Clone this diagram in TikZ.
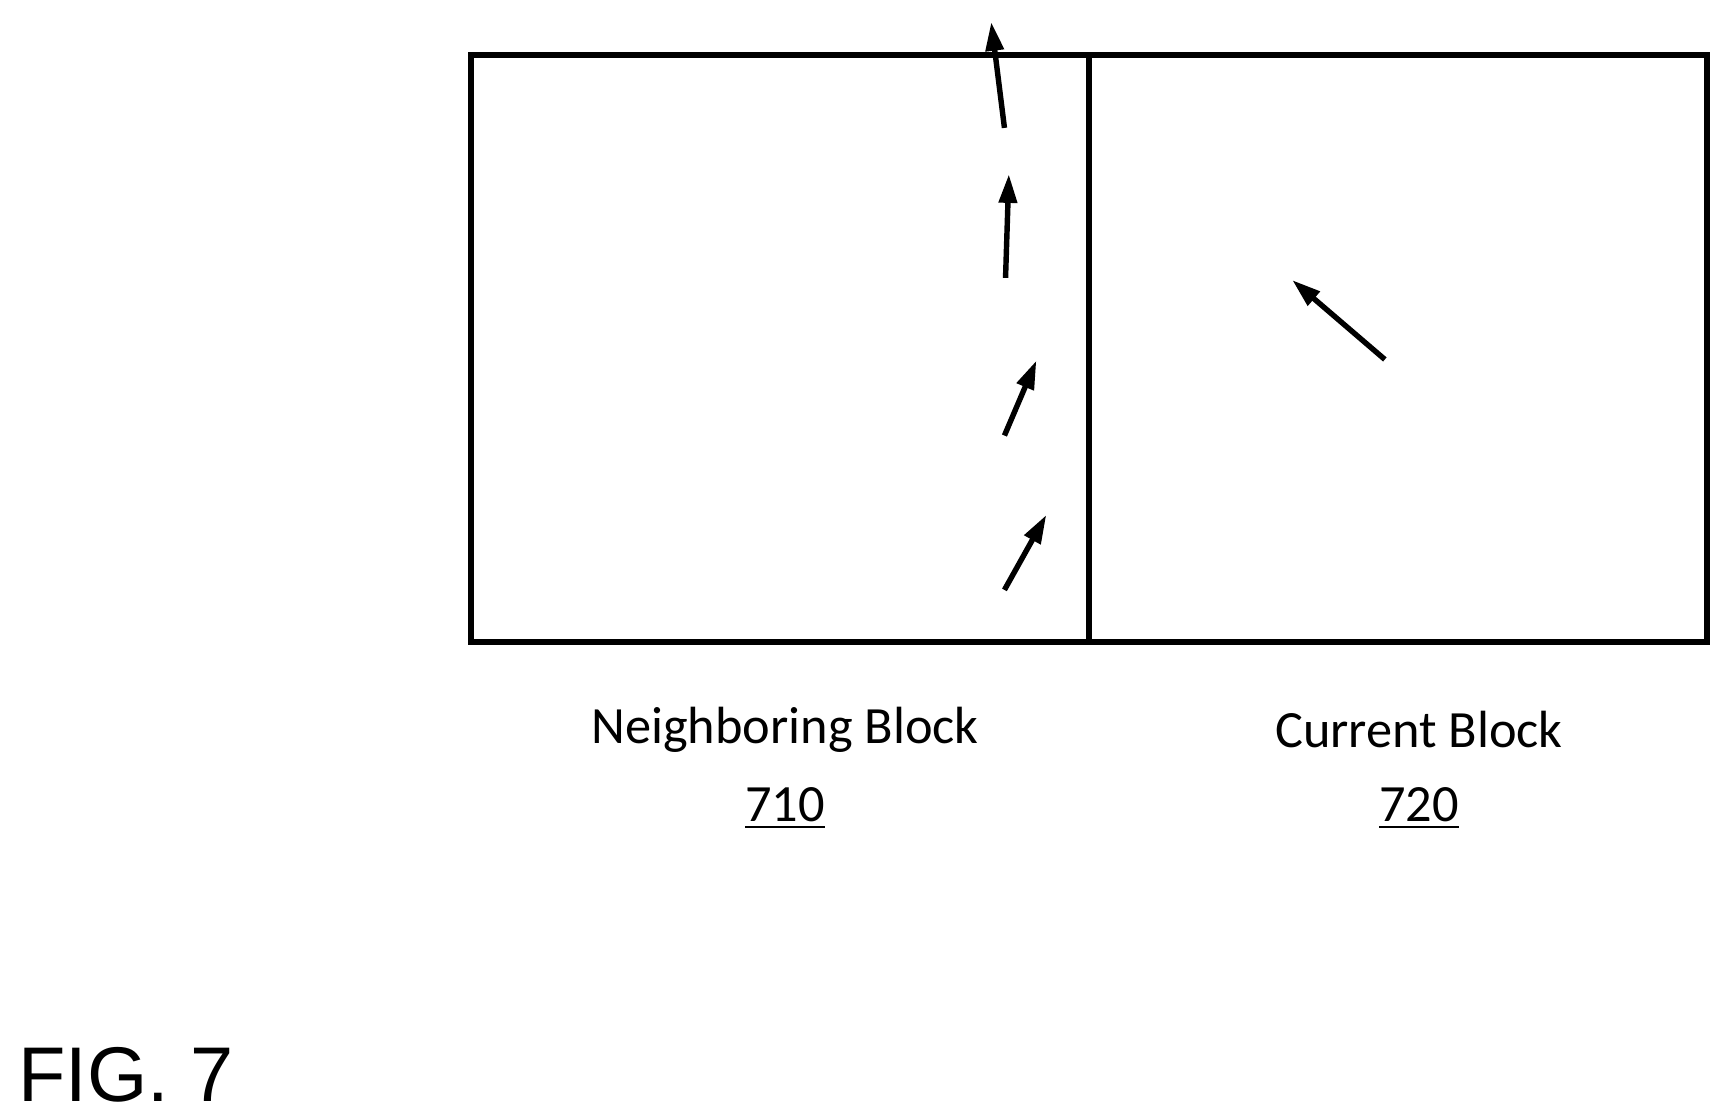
\documentclass[tikz,border=0pt]{standalone}
\usepackage{fontspec}
\setmainfont{Carlito}
\newfontfamily\figfont{Liberation Sans}
\usetikzlibrary{arrows.meta}
\begin{document}
\begin{tikzpicture}[x=0.01cm,y=-0.01cm,
  mv/.style={line width=1.4pt,-{Triangle[length=0.26cm,width=0.16cm]}},
  lbl/.style={font=\fontsize{13.5}{16}\selectfont,inner sep=0pt}]
\useasboundingbox (0,0) rectangle (1560,1014);
\draw[line width=1.6pt] (427,50) rectangle (1548,582);
\draw[line width=1.6pt] (988,50) -- (988,582);
\coordinate (a1) at (911,116); \coordinate (b1) at (899,20);
\coordinate (a2) at (912,252); \coordinate (b2) at (915,158);
\coordinate (a3) at (911,395); \coordinate (b3) at (940,327);
\coordinate (a4) at (911,535); \coordinate (b4) at (949,467);
\coordinate (a5) at (1256,326); \coordinate (b5) at (1172,254);
\foreach \i in {1,...,5} \draw[mv] (a\i) -- (b\i);
\node[lbl] (n1) at (712,662) {Neighboring Block};
\node[lbl] (n2) at (712,733) {\underline{710}};
\node[lbl] (c1) at (1287,662) {Current Block};
\node[lbl] (c2) at (1287,733) {\underline{720}};
\node[anchor=west,inner sep=0pt,font=\figfont\fontsize{20}{24}\selectfont] (fig) at (16,975) {FIG. 7};
\end{tikzpicture}
\end{document}
